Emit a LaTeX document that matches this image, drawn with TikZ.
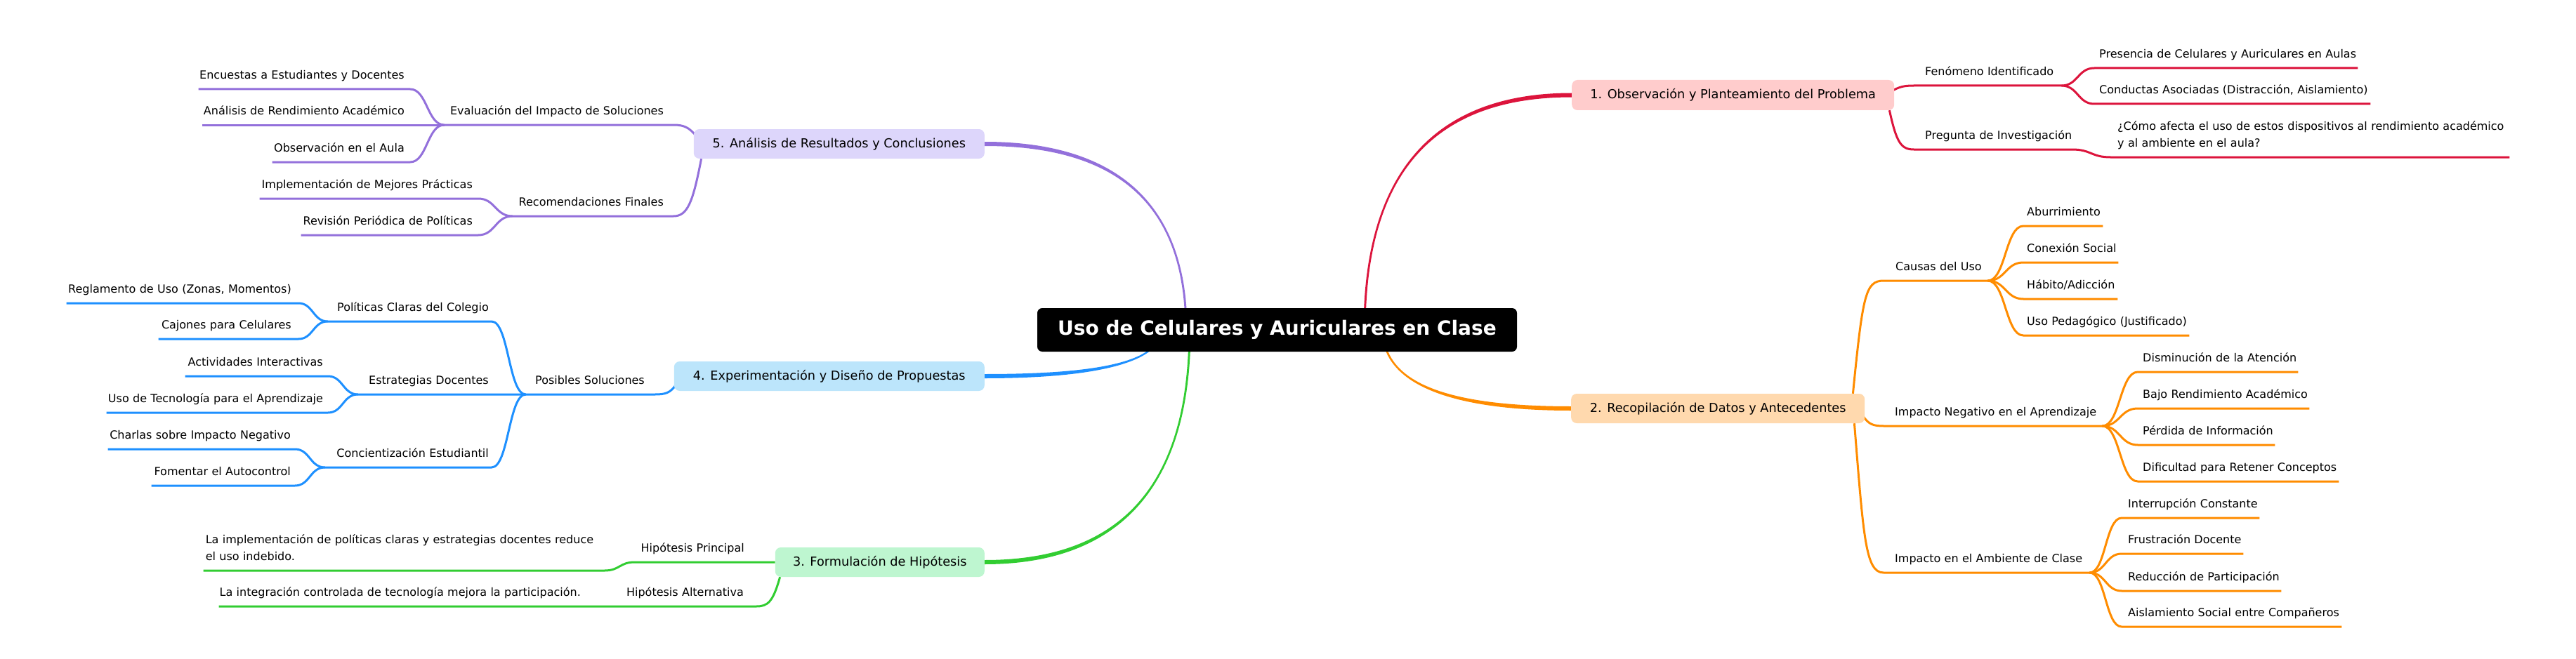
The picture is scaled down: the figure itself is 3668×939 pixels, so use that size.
\documentclass[tikz,border=0pt]{standalone}
\usepackage{fontspec}
\setmainfont{DejaVu Sans}
\usetikzlibrary{calc}
\pgfdeclarelayer{bg}
\pgfsetlayers{bg,main}
\definecolor{cR}{HTML}{DC143C}
\definecolor{fR}{HTML}{FFCCCC}
\definecolor{cO}{HTML}{FF8C00}
\definecolor{fO}{HTML}{FFD9AE}
\definecolor{cG}{HTML}{32CD32}
\definecolor{fG}{HTML}{BEF6D0}
\definecolor{cB}{HTML}{1E90FF}
\definecolor{fB}{HTML}{BCE5FB}
\definecolor{cP}{HTML}{9370DB}
\definecolor{fP}{HTML}{DDD6FB}
\tikzset{
  lbl/.style={inner xsep=0pt, inner ysep=0pt, text depth=14.5pt, font=\fontsize{16}{23.5}\selectfont},
  mainnode/.style={rounded corners=8pt, minimum height=42pt, inner xsep=2pt, inner ysep=0pt, font=\fontsize{17.7}{20}\selectfont},
  ln/.style={line width=3pt, line join=round},
  sc/.style={to path={.. controls ($(\tikztostart)!.5!(\tikztostart-|\tikztotarget)$) and ($(\tikztotarget)!.5!(\tikztotarget-|\tikztostart)$) .. (\tikztotarget)}},
}
\newcommand\RL[6]{\node[lbl,anchor=south west,text width=#4pt,align=left] (#1) at (#2,#3) {\hspace*{#5pt}\mbox{#6}};}
\newcommand\LL[6]{\node[lbl,anchor=south east,text width=#4pt,align=right] (#1) at (#2,#3) {\mbox{#6}\kern#5pt};}
\newcommand\mbr[7]{%
 \fill[#1] ($(#2)+(#5,0)$) .. controls ($(#2)!2/3!(#2|-#3)+(#5,0)$) and ($(#3)!2/3!(#2|-#3)+(0,#7)$) .. ($(#3)+(0,#7)$) -- ($(#3)+(0,#6)$) .. controls ($(#3)!2/3!(#2|-#3)+(0,#6)$) and ($(#2)!2/3!(#2|-#3)+(#4,0)$) .. ($(#2)+(#4,0)$) -- cycle;}
\begin{document}
\begin{tikzpicture}[x=1pt,y=-1pt]
\useasboundingbox (0,0) rectangle (3668,939);
% root and main nodes
\node[fill=black, rounded corners=7pt, minimum width=683pt, minimum height=62pt, inner sep=2pt, text=white, font=\bfseries\fontsize{28}{30}\selectfont] (root) at (1818.5,470) {Uso de Celulares y Auriculares en Clase};
\node[mainnode, fill=fR, minimum width=459pt, minimum height=43pt, anchor=west] (n1) at (2238,135.5) {1. Observación y Planteamiento del Problema};
\node[mainnode, fill=fO, minimum width=418pt, anchor=west] (n2) at (2237,582) {2. Recopilación de Datos y Antecedentes};
\node[mainnode, fill=fG, minimum width=298pt, anchor=east] (n3) at (1402,801) {3. Formulación de Hipótesis};
\node[mainnode, fill=fB, minimum width=442pt, anchor=east] (n4) at (1402,536) {4. Experimentación y Diseño de Propuestas};
\node[mainnode, fill=fP, minimum width=414pt, anchor=east] (n5) at (1402,205) {5. Análisis de Resultados y Conclusiones};
\coordinate (sR) at ($(root.center)+(124.5,0)$);
\coordinate (sP) at ($(root.center)+(-129.5,0)$);
\coordinate (sB) at ($(root.center)+(-165.5,0)$);
\coordinate (sG) at ($(root.center)+(-124.5,0)$);
\coordinate (sO) at ($(root.center)+(150.5,0)$);
% red branch labels
\RL{fen}{2725}{122}{210}{16}{Fenómeno Identificado}
\RL{pres}{2982}{97}{375}{7}{Presencia de Celulares y Auriculares en Aulas}
\RL{cond}{2982}{148}{393}{7}{Conductas Asociadas (Distracción, Aislamiento)}
\RL{preg}{2725}{213}{225}{16}{Pregunta de Investigación}
\node[lbl,text depth=38pt,anchor=south west,text width=568pt,align=left] (q) at (3005,224) {\hspace*{10pt}\mbox{¿Cómo afecta el uso de estos dispositivos al rendimiento académico}\\\hspace*{10pt}\mbox{y al ambiente en el aula?}};
% orange branch labels
\RL{caus}{2682}{400}{148}{17}{Causas del Uso}
\RL{abur}{2881}{322}{113}{5}{Aburrimiento}
\RL{conx}{2881}{374}{135}{5}{Conexión Social}
\RL{habi}{2881}{426}{134}{5}{Hábito/Adicción}
\RL{uped}{2881}{478}{236}{5}{Uso Pedagógico (Justificado)}
\RL{neg}{2682}{607}{311}{16}{Impacto Negativo en el Aprendizaje}
\RL{dism}{3044}{530}{228}{7}{Disminución de la Atención}
\RL{bajo}{3044}{582}{244}{7}{Bajo Rendimiento Académico}
\RL{perd}{3044}{634}{195}{7}{Pérdida de Información}
\RL{difi}{3044}{686}{286}{7}{Dificultad para Retener Conceptos}
\RL{amb}{2682}{816}{293}{16}{Impacto en el Ambiente de Clase}
\RL{intr}{3021}{738}{196}{9}{Interrupción Constante}
\RL{frus}{3021}{789}{173}{9}{Frustración Docente}
\RL{redu}{3021}{842}{227}{9}{Reducción de Participación}
\RL{aisl}{3021}{893}{313}{9}{Aislamiento Social entre Compañeros}
% purple branch labels
\LL{eval}{959}{178}{326}{14}{Evaluación del Impacto de Soluciones}
\LL{encu}{584}{127}{301}{8}{Encuestas a Estudiantes y Docentes}
\LL{anal}{584}{178}{296}{8}{Análisis de Rendimiento Académico}
\LL{obse}{584}{231}{196}{8}{Observación en el Aula}
\LL{reco}{959}{308}{229}{14}{Recomendaciones Finales}
\LL{impl}{681}{283}{311}{8}{Implementación de Mejores Prácticas}
\LL{revi}{681}{335}{252}{8}{Revisión Periódica de Políticas}
% blue branch labels
\LL{posi}{933}{562}{184}{15}{Posibles Soluciones}
\LL{poli}{700}{458}{233}{4}{Políticas Claras del Colegio}
\LL{regl}{425}{432}{330}{10}{Reglamento de Uso (Zonas, Momentos)}
\LL{cajo}{425}{483}{199}{10}{Cajones para Celulares}
\LL{estr}{700}{562}{190}{4}{Estrategias Docentes}
\LL{acti}{467}{536}{203}{7}{Actividades Interactivas}
\LL{tecn}{467}{588}{315}{7}{Uso de Tecnología para el Aprendizaje}
\LL{conc}{700}{666}{237}{4}{Concientización Estudiantil}
\LL{char}{420}{640}{266}{6}{Charlas sobre Impacto Negativo}
\LL{fome}{420}{692}{204}{6}{Fomentar el Autocontrol}
% green branch labels
\LL{hpri}{1077}{801}{173}{17}{Hipótesis Principal}
\node[lbl,text depth=38pt,anchor=south east,text width=571pt,align=left] (hprl) at (861,813) {\hspace*{3pt}\mbox{La implementación de políticas claras y estrategias docentes reduce}\\\hspace*{3pt}\mbox{el uso indebido.}};
\LL{halt}{1077}{864}{197}{18}{Hipótesis Alternativa}
\LL{haltl}{880}{864}{568}{53}{La integración controlada de tecnología mejora la participación.}
\begin{pgfonlayer}{bg}
\mbr{cR}{sR}{n1.west}{1.5}{-1.5}{3}{-3}
\mbr{cO}{sO}{n2.west}{1.5}{-1.5}{-3}{3}
\mbr{cP}{sP}{n5.east}{-1.5}{1.5}{3}{-3}
\mbr{cB}{sB}{n4.east}{-1.5}{1.5}{-3}{3}
\mbr{cG}{sG}{n3.east}{-1.5}{1.5}{-3}{3}
% red
\draw[ln,cR] ($(n1.east)+(-5,-5)$) .. controls +(12,-7) and +(-14,0) .. (fen.south west) -- (fen.south east) to[sc] (pres.south west) -- (pres.south east);
\draw[ln,cR] (fen.south east) to[sc] (cond.south west) -- (cond.south east);
\draw[ln,cR] ($(n1.south east)+(-7,0)$) .. controls +(10,46) and +(-18,0) .. (preg.south west) -- (preg.south east) to[sc] (q.south west) -- (q.south east);
% orange
\draw[ln,cO] ($(n2.north east)+(-17,0)$) .. controls +(14,-140) and +(-26,0) .. (caus.south west) -- (caus.south east) to[sc] (abur.south west) -- (abur.south east);
\foreach \nn in {conx,habi,uped} \draw[ln,cO] (caus.south east) to[sc] (\nn.south west) -- (\nn.south east);
\draw[ln,cO] ($(n2.east)+(-3,10)$) .. controls +(8,13) and +(-14,0) .. (neg.south west) -- (neg.south east) to[sc] (dism.south west) -- (dism.south east);
\foreach \nn in {bajo,perd,difi} \draw[ln,cO] (neg.south east) to[sc] (\nn.south west) -- (\nn.south east);
\draw[ln,cO] ($(n2.south east)+(-15,0)$) .. controls +(13,160) and +(-26,0) .. (amb.south west) -- (amb.south east) to[sc] (intr.south west) -- (intr.south east);
\foreach \nn in {frus,redu,aisl} \draw[ln,cO] (amb.south east) to[sc] (\nn.south west) -- (\nn.south east);
% purple
\draw[ln,cP] ($(n5.west)+(3,-12)$) .. controls +(-10,-12) and +(14,0) .. (eval.south east) -- (eval.south west) to[sc] (encu.south east) -- (encu.south west);
\foreach \nn in {anal,obse} \draw[ln,cP] (eval.south west) to[sc] (\nn.south east) -- (\nn.south west);
\draw[ln,cP] ($(n5.south west)+(11,0)$) .. controls +(-12,62) and +(20,0) .. (reco.south east) -- (reco.south west) to[sc] (impl.south east) -- (impl.south west);
\draw[ln,cP] (reco.south west) to[sc] (revi.south east) -- (revi.south west);
% blue
\draw[ln,cB] ($(n4.west)+(3,12)$) .. controls +(-8,12) and +(14,0) .. (posi.south east) -- (posi.south west) to[sc] (poli.south east) -- (poli.south west) to[sc] (regl.south east) -- (regl.south west);
\draw[ln,cB] (poli.south west) to[sc] (cajo.south east) -- (cajo.south west);
\draw[ln,cB] (posi.south west) to[sc] (estr.south east) -- (estr.south west) to[sc] (acti.south east) -- (acti.south west);
\draw[ln,cB] (estr.south west) to[sc] (tecn.south east) -- (tecn.south west);
\draw[ln,cB] (posi.south west) to[sc] (conc.south east) -- (conc.south west) to[sc] (char.south east) -- (char.south west);
\draw[ln,cB] (conc.south west) to[sc] (fome.south east) -- (fome.south west);
% green
\draw[ln,cG] (n3.west) -- (hpri.south east) -- (hpri.south west) to[sc] (hprl.south east) -- (hprl.south west);
\draw[ln,cG] ($(n3.south west)+(7,0)$) .. controls +(-10,36) and +(16,0) .. (halt.south east) -- (halt.south west) -- (haltl.south east) -- (haltl.south west);
\end{pgfonlayer}
\end{tikzpicture}
\end{document}
